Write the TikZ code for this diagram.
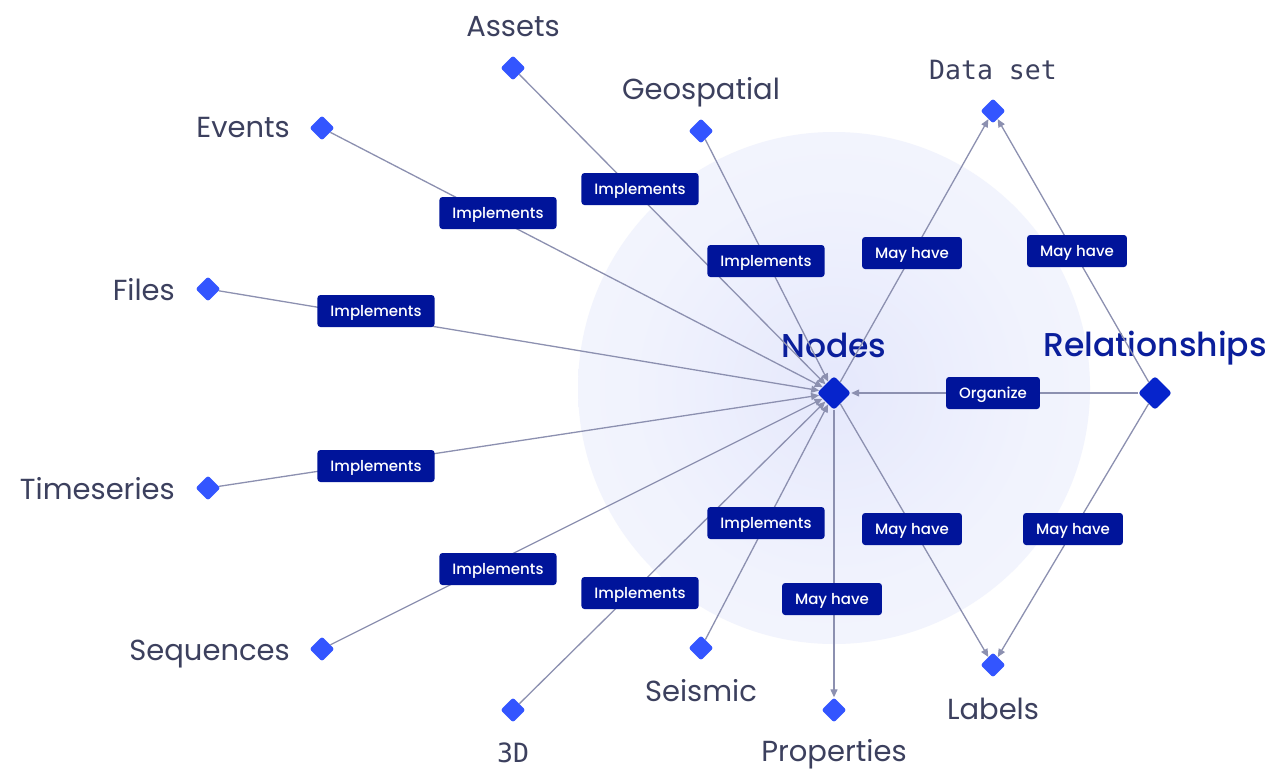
\documentclass[tikz,border=0pt]{standalone}
\usepackage{fontspec}
\setmainfont{Poppins}
\newfontfamily\medfont{Poppins Medium}
\newfontfamily\monofont{DejaVu Sans Mono}
\usetikzlibrary{shapes.geometric,arrows.meta}

\definecolor{navy}{HTML}{00149A}
\definecolor{hubblue}{HTML}{0624CC}
\definecolor{leafblue}{HTML}{3355FF}
\definecolor{slate}{HTML}{3C405E}
\definecolor{linecol}{HTML}{8C90B0}
\definecolor{titleblue}{HTML}{0A1E9B}
\definecolor{glowA}{HTML}{E5E8FC}
\definecolor{glowB}{HTML}{F1F3FD}
\definecolor{glowC}{HTML}{F7F8FE}

\pgfdeclareradialshading{glow}{\pgfpoint{0bp}{0bp}}{%
  color(0bp)=(glowA); color(20bp)=(glowB); color(49bp)=(glowC); color(50bp)=(glowC)}

\tikzset{
  leaf/.style={shape=diamond, fill=leafblue, minimum width=25pt, minimum height=25pt,
    inner sep=0pt, rounded corners=2.5pt},
  hubmark/.style={shape=diamond, fill=hubblue, minimum width=34pt, minimum height=34pt,
    inner sep=0pt, rounded corners=3pt},
  title/.style={text=slate, font=\fontsize{29}{33}\selectfont, inner sep=0pt},
  monotitle/.style={text=slate, font=\monofont\fontsize{26.5}{30}\selectfont, inner sep=0pt},
  bigtitle/.style={text=titleblue, font=\medfont\fontsize{33}{38}\selectfont, inner sep=0pt},
  tag/.style={fill=navy, text=white, rounded corners=3pt, inner xsep=13pt, inner ysep=0pt,
    minimum height=32pt, text height=11pt, text depth=0pt,
    font=\medfont\fontsize{15}{18}\selectfont},
  edge/.style={draw=linecol, line width=1.3pt, -{Triangle[length=8pt,width=7pt]}},
}

\begin{document}
\begin{tikzpicture}[x=1pt,y=-1pt]
  \useasboundingbox (0,0) rectangle (1274,769);
  \fill[white] (0,0) rectangle (1274,769);

  % soft halo behind the central node
  \shade[shading=glow] (834,388) circle (256);

  % diamonds
  \node[hubmark] (hub) at (834,393) {};
  \node[hubmark] (rel) at (1155,393) {};
  \node[leaf] (assets) at (513,68) {};
  \node[leaf] (geo) at (701,131) {};
  \node[leaf] (events) at (322,128) {};
  \node[leaf] (files) at (208,289) {};
  \node[leaf] (ts) at (208,488) {};
  \node[leaf] (seq) at (322,649) {};
  \node[leaf] (threed) at (513,710) {};
  \node[leaf] (seis) at (701,648) {};
  \node[leaf] (props) at (834,710) {};
  \node[leaf] (labels) at (993,665) {};
  \node[leaf] (dataset) at (993,111) {};

  % titles
  \node[title, anchor=base] (tAssets) at (513,36) {Assets};
  \node[title, anchor=base] (tGeo) at (701,99) {Geospatial};
  \node[title, anchor=base east] (tEvents) at (290,137) {Events};
  \node[title, anchor=base east] (tFiles) at (175,300) {Files};
  \node[title, anchor=base east] (tTs) at (175,499) {Timeseries};
  \node[title, anchor=base east] (tSeq) at (290,660) {Sequences};
  \node[monotitle, anchor=base] (tThreeD) at (513,762) {3D};
  \node[title, anchor=base] (tSeis) at (701,701) {Seismic};
  \node[title, anchor=base] (tProps) at (834,761) {Properties};
  \node[title, anchor=base] (tLabels) at (993,719) {Labels};
  \node[monotitle, anchor=base] (tData) at (993,79) {Data set};
  \node[bigtitle, anchor=base] (tHub) at (834,357) {Nodes};
  \node[bigtitle, anchor=base] (tRel) at (1155,356) {Relationships};

  % connectors
  \draw[edge] (events) -- (hub);
  \draw[edge] (assets) -- (hub);
  \draw[edge] (geo) -- (hub);
  \draw[edge] (files) -- (hub);
  \draw[edge] (ts) -- (hub);
  \draw[edge] (seq) -- (hub);
  \draw[edge] (threed) -- (hub);
  \draw[edge] (seis) -- (hub);
  \draw[edge] (hub) -- (props);
  \draw[edge] (hub) -- (dataset);
  \draw[edge] (hub) -- (labels);
  \draw[edge] (rel) -- (hub);
  \draw[edge] (rel) -- (dataset);
  \draw[edge] (rel) -- (labels);

  % connector tags
  \node[tag] (lEvents) at (498,213) {Implements};
  \node[tag] (lAssets) at (640,189) {Implements};
  \node[tag] (lGeo) at (766,261) {Implements};
  \node[tag] (lFiles) at (376,311) {Implements};
  \node[tag] (lTs) at (376,466) {Implements};
  \node[tag] (lSeq) at (498,569) {Implements};
  \node[tag] (lThreeD) at (640,593) {Implements};
  \node[tag] (lSeis) at (766,523) {Implements};
  \node[tag] (lProps) at (832,599) {May have};
  \node[tag] (lHubData) at (912,253) {May have};
  \node[tag] (lHubLab) at (912,529) {May have};
  \node[tag] (lRelData) at (1077,251) {May have};
  \node[tag] (lRelLab) at (1073,529) {May have};
  \node[tag] (lOrg) at (993,393) {Organize};
\end{tikzpicture}
\end{document}
